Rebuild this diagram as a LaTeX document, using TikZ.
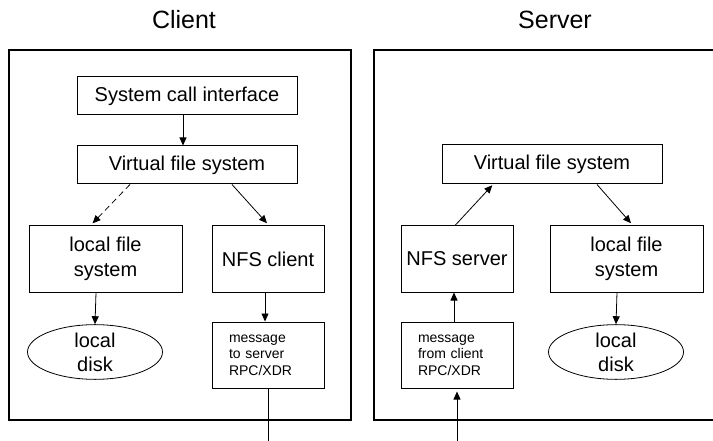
\documentclass[tikz,border=0pt]{standalone}
\usepackage{fontspec}
\setmainfont{Liberation Sans}
\usetikzlibrary{shapes.geometric, arrows.meta, positioning}

\begin{document}
\begin{tikzpicture}[
  x=1pt, y=-1pt,
  node distance=30pt,
  box/.style={rectangle, draw=black, line width=1pt, inner sep=0pt,
             minimum height=66pt, align=center,
             font=\fontsize{20}{25}\selectfont},
  widebox/.style={box, minimum width=220pt, minimum height=38pt},
  fsbox/.style={box, minimum width=153pt},
  nfsbox/.style={box, minimum width=112pt},
  msgbox/.style={box, text width=78pt, inner xsep=17pt, align=left,
             font=\fontsize{14}{16.5}\selectfont},
  diskbox/.style={ellipse, draw=black, line width=0.8pt, inner sep=0pt,
             minimum width=135pt, minimum height=52pt, align=center,
             font=\fontsize{20}{24}\selectfont},
  frame/.style={draw=black, line width=1.2pt},
  titletext/.style={font=\fontsize{25}{28}\selectfont},
  arrow/.style={-{Triangle[length=8pt, width=7pt]}, line width=0.8pt}
]
\useasboundingbox (0,0) rectangle (713,441);

% client side
\node[titletext] (clientTitle) at (184,20) {Client};
\draw[frame] (9,50) rectangle (351,420);

\node[widebox] (sys) at (187,96) {System call interface};
\node[widebox, below=30pt of sys] (vfsC) {Virtual file system};
\node[fsbox] (lfsC) at (105.5,259) {local file\\system};
\node[nfsbox] (nfsC) at (268,259) {NFS client};
\node[diskbox] (diskC) at (95,352) {local\\disk};
\node[msgbox, below=29pt of nfsC] (msgC) {message\\to server\\RPC/XDR};
\coordinate (wireC) at (268,441);

\draw[arrow] ([xshift=-4pt]sys.south) -- ([xshift=-4pt]vfsC.north);
\draw[arrow, dash pattern=on 6pt off 4pt, shorten >=3pt] ([xshift=-57pt]vfsC.south) -- ([xshift=-15pt]lfsC.north);
\draw[arrow, shorten >=3pt] ([xshift=45pt]vfsC.south) -- ([xshift=1pt]nfsC.north);
\draw[arrow] ([xshift=-9.5pt]lfsC.south) -- (diskC.north);
\draw[arrow] ([xshift=-3pt]nfsC.south) -- ([xshift=-3pt]msgC.north);
\draw[line width=0.8pt] (msgC.south) -- (wireC);

% server side
\node[titletext] (serverTitle) at (555,20) {Server};
\draw[frame] (713,50) -- (374,50) -- (374,420) -- (713,420);

\node[widebox, minimum height=39pt] (vfsS) at (552,164.5) {Virtual file system};
\node[nfsbox] (nfsS) at (457,259) {NFS server};
\node[fsbox] (lfsS) at (626.5,259) {local file\\system};
\node[diskbox] (diskS) at (616,352) {local\\disk};
\node[msgbox, below=29pt of nfsS] (msgS) {message\\from client\\RPC/XDR};
\coordinate (wireS) at (457,441);

\draw[arrow, shorten >=1pt] ([xshift=-2pt]nfsS.north) -- ([xshift=-59pt]vfsS.south);
\draw[arrow, shorten >=3pt] ([xshift=45pt]vfsS.south) -- ([xshift=6.5pt]lfsS.north);
\draw[arrow] ([xshift=-9.5pt]lfsS.south) -- (diskS.north);
\draw[arrow] ([xshift=-3pt]msgS.north) -- ([xshift=-3pt]nfsS.south);
\draw[arrow, shorten >=3pt] (wireS) -- (msgS.south);

\end{tikzpicture}
\end{document}
